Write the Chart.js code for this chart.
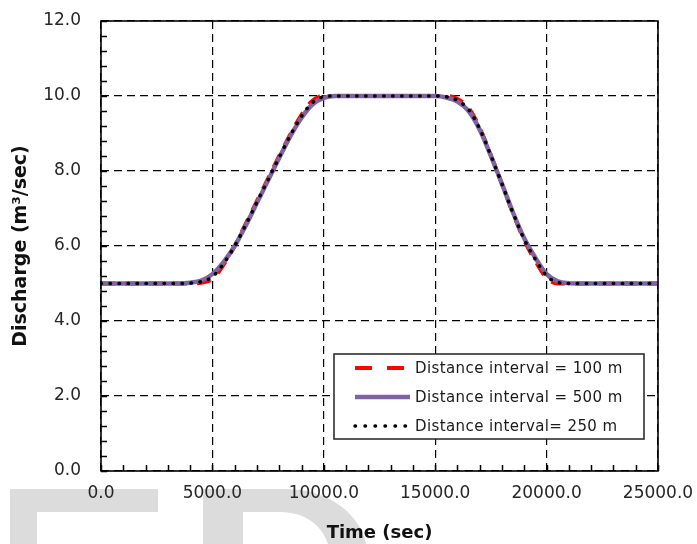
<!DOCTYPE html>
<html>
<head>
<meta charset="utf-8">
<script src="https://cdn.jsdelivr.net/npm/chart.js@4/dist/chart.umd.min.js"></script>
<style>
  html, body { margin: 0; padding: 0; background: #fff; }
  #wrap { position: relative; width: 697px; height: 544px; overflow: hidden; }
  #wm { position: absolute; left: 0; top: 0; }
  #c { position: absolute; left: 0; top: 0; }
</style>
</head>
<body>
<div id="wrap">
  <svg id="wm" width="697" height="544">
    <rect x="10" y="489" width="148" height="23" fill="#dcdcdc"/>
    <rect x="10" y="489" width="27" height="55" fill="#dcdcdc"/>
    <path d="M203 489 H286 C330 489 360 515 366 544 H328 C322 526 306 512 280 512 H243 V544 H203 Z" fill="#dcdcdc"/>
  </svg>
  <canvas id="c" width="697" height="544"></canvas>
</div>
<script>
// ---- data ----
const times = [0,500,1000,1500,2000,2500,3000,3500,4000,4500,5000,5500,6000,6500,7000,7500,8000,8500,9000,9500,10000,10500,11000,11500,12000,12500,13000,13500,14000,14500,15000,15500,16000,16500,17000,17500,18000,18500,19000,19500,20000,20500,21000,21500,22000,22500,23000,23500,24000,24500,25000];
const q100 = [5.0,5.0,5.0,5.0,5.0,5.0,5.0,5.0,5.0,5.02,5.12,5.5,6.0,6.6,7.2,7.8,8.4,8.98,9.5,9.88,10.0,10.0,10.0,10.0,10.0,10.0,10.0,10.0,10.0,10.0,10.0,10.0,9.92,9.68,9.15,8.42,7.65,6.86,6.15,5.6,5.15,5.0,5.0,5.0,5.0,5.0,5.0,5.0,5.0,5.0,5.0];
const q500 = [5.0,5.0,5.0,5.0,5.0,5.0,5.0,5.0,5.02,5.08,5.25,5.57,6.0,6.55,7.15,7.75,8.35,8.93,9.42,9.78,9.95,10.0,10.0,10.0,10.0,10.0,10.0,10.0,10.0,10.0,10.0,9.96,9.85,9.6,9.1,8.4,7.65,6.88,6.2,5.68,5.25,5.06,5.01,5.0,5.0,5.0,5.0,5.0,5.0,5.0,5.0];
const q250 = [5.0,5.0,5.0,5.0,5.0,5.0,5.0,5.0,5.01,5.05,5.18,5.53,6.0,6.57,7.17,7.77,8.37,8.95,9.46,9.83,9.98,10.0,10.0,10.0,10.0,10.0,10.0,10.0,10.0,10.0,10.0,9.98,9.88,9.64,9.12,8.41,7.65,6.87,6.17,5.64,5.2,5.03,5.0,5.0,5.0,5.0,5.0,5.0,5.0,5.0,5.0];
const seriesLabels = ["Distance interval = 100 m", "Distance interval = 500 m", "Distance interval= 250 m"];
const xTicks = [0, 5000, 10000, 15000, 20000, 25000];
const yTicks = [0, 2, 4, 6, 8, 10, 12];

const toXY = arr => times.map((t, i) => ({x: t, y: arr[i]}));

const framePlugin = {
  id: 'frame',
  afterDatasetsDraw(chart) {
    const {ctx, chartArea: a, scales} = chart;
    ctx.save();
    ctx.strokeStyle = '#000';
    ctx.lineWidth = 1.5;
    ctx.beginPath();
    for (let i = 0; i <= 30; i++) {
      const py = Math.round(scales.y.getPixelForValue(i * 0.4)) + 0.5;
      ctx.moveTo(a.left, py); ctx.lineTo(a.left + 6, py);
    }
    for (let i = 0; i <= 25; i++) {
      const px = Math.round(scales.x.getPixelForValue(i * 1000)) + 0.5;
      ctx.moveTo(px, a.bottom); ctx.lineTo(px, a.bottom - 6);
    }
    ctx.stroke();
    ctx.lineWidth = 1.6;
    ctx.strokeRect(a.left, a.top, a.right - a.left, a.bottom - a.top);
    ctx.restore();
  },
  afterDraw(chart) {
    const {ctx, chartArea: a} = chart;
    const bx = a.right - 324, by = a.bottom - 117, bw = 310, bh = 85;
    ctx.save();
    ctx.fillStyle = '#fff';
    ctx.fillRect(bx, by, bw, bh);
    ctx.strokeStyle = '#222';
    ctx.lineWidth = 1.5;
    ctx.strokeRect(bx, by, bw, bh);
    const rows = [14, 43, 72];
    chart.data.datasets.forEach((ds, i) => {
      const y = by + rows[i];
      ctx.save();
      ctx.strokeStyle = ds.borderColor;
      ctx.lineWidth = ds.borderWidth;
      ctx.lineCap = ds.borderCapStyle || 'butt';
      ctx.setLineDash(ds.legendDash || []);
      ctx.beginPath();
      ctx.moveTo(bx + 21, y); ctx.lineTo(bx + 76, y);
      ctx.stroke();
      ctx.restore();
      ctx.fillStyle = '#1a1a1a';
      ctx.font = '15px "DejaVu Sans"';
      try { ctx.letterSpacing = '0.4px'; } catch (e) {}
      ctx.textBaseline = 'middle';
      ctx.textAlign = 'left';
      ctx.fillText(ds.label, bx + 81, y + 1);
    });
    ctx.restore();
  }
};

const noPad = s => { s.paddingTop = 0; s.paddingBottom = 0; s.paddingLeft = 0; s.paddingRight = 0; };

new Chart(document.getElementById('c'), {
  type: 'line',
  data: {
    datasets: [
      { label: seriesLabels[0], data: toXY(q100), borderColor: '#ff0000', borderWidth: 4,
        borderDash: [14, 10], legendDash: [17, 15], order: 3 },
      { label: seriesLabels[1], data: toXY(q500), borderColor: '#8064a2', borderWidth: 4.5,
        order: 2 },
      { label: seriesLabels[2], data: toXY(q250), borderColor: '#000000', borderWidth: 3.5,
        borderDash: [0.5, 8.5], legendDash: [0.5, 9.5], borderCapStyle: 'round', order: 1 }
    ]
  },
  options: {
    responsive: false,
    animation: false,
    devicePixelRatio: 1,
    layout: { padding: { top: 21, right: 39, left: 0, bottom: 0 } },
    elements: { point: { radius: 0 }, line: { tension: 0.4, cubicInterpolationMode: 'monotone' } },
    plugins: { legend: { display: false }, tooltip: { enabled: false } },
    scales: {
      x: {
        type: 'linear', min: 0, max: 25000,
        afterBuildTicks: s => { s.ticks = xTicks.map(v => ({value: v})); },
        afterFit: s => { s.height = 73; noPad(s); },
        ticks: { padding: 12, color: '#262626', font: { family: 'DejaVu Sans', size: 17 }, maxRotation: 0,
          callback: v => Number(v).toFixed(1) },
        grid: { color: '#000', lineWidth: 1.2, drawTicks: false },
        border: { display: false, dash: [8, 5] },
        title: { display: true, text: 'Time (sec)', color: '#111',
          font: { family: 'DejaVu Sans', size: 18, weight: 'bold' }, padding: { top: 0, bottom: 0 } }
      },
      y: {
        type: 'linear', min: 0, max: 12,
        afterBuildTicks: s => { s.ticks = yTicks.map(v => ({value: v})); },
        afterFit: s => { s.width = 101; noPad(s); },
        ticks: { padding: 20, color: '#262626', font: { family: 'DejaVu Sans', size: 17 },
          callback: v => Number(v).toFixed(1) },
        grid: { color: '#000', lineWidth: 1.2, drawTicks: false },
        border: { display: false, dash: [8, 5] },
        title: { display: true, text: 'Discharge (m³/sec)', color: '#111',
          font: { family: 'DejaVu Sans', size: 19, weight: 'bold' }, padding: { top: 10, bottom: 0 } }
      }
    }
  },
  plugins: [framePlugin]
});
</script>
</body>
</html>
